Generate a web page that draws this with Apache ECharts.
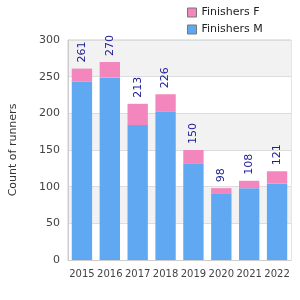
<!DOCTYPE html>
<html><head><meta charset="utf-8">
<script src="https://cdn.jsdelivr.net/npm/echarts@6/dist/echarts.min.js"></script>
<style>html,body{margin:0;padding:0;background:#fff}#c{width:300px;height:300px}</style>
</head><body><div id="c"></div>
<script>
const years = ['2015','2016','2017','2018','2019','2020','2021','2022'];
const finishersM = [243, 249, 184, 202, 132, 91, 98, 104];
const finishersF = [18, 21, 29, 24, 18, 7, 10, 17];
const totals = [261, 270, 213, 226, 150, 98, 108, 121];
const yTicks = [0, 50, 100, 150, 200, 250, 300];

const chart = echarts.init(document.getElementById('c'), null, {renderer:'canvas'});
const font = 'DejaVu Sans, sans-serif';
chart.setOption({
  animation: false,
  textStyle: {fontFamily: font},
  legend: {
    orient: 'vertical', left: 182, top: 2, itemWidth: 9, itemHeight: 9, itemGap: 6,
    icon: 'rect',
    textStyle: {fontSize: 11, color: '#222', fontFamily: font},
    itemStyle: {borderColor: '#777', borderWidth: 1},
    data: ['Finishers F', 'Finishers M']
  },
  grid: {left: 60, right: 9, top: 40, bottom: 40, show: true, borderColor: '#ccc', borderWidth: 1, backgroundColor: 'transparent'},
  xAxis: {
    type: 'category', data: years,
    axisLine: {lineStyle: {color: '#ccc'}}, axisTick: {show: false},
    axisLabel: {color: '#444', fontSize: 10, margin: 9, interval: 0, fontFamily: font}
  },
  yAxis: {
    type: 'value', min: 0, max: 300, interval: 50,
    name: 'Count of runners', nameLocation: 'middle', nameGap: 49,
    nameTextStyle: {color: '#333', fontSize: 11, fontFamily: font},
    axisLabel: {color: '#444', fontSize: 11, margin: 8, fontFamily: font,
      formatter: v => yTicks.includes(v) ? String(v) : ''},
    axisLine: {show: true, lineStyle: {color: '#ccc'}},
    splitLine: {lineStyle: {color: '#ddd'}},
    splitArea: {show: true, areaStyle: {color: ['#ffffff', '#f2f2f2']}}
  },
  series: [
    {name: 'Finishers M', type: 'bar', stack: 'a', data: finishersM, barWidth: '73%',
     itemStyle: {color: '#60a8f2'}},
    {name: 'Finishers F', type: 'bar', stack: 'a', data: finishersF, barWidth: '73%',
     itemStyle: {color: '#f386bd'},
     label: {show: true, position: 'top', rotate: 90, align: 'left', verticalAlign: 'middle',
       distance: 6, color: '#1c1c94', fontSize: 11, fontFamily: font,
       formatter: p => String(totals[p.dataIndex])}}
  ]
});
</script></body></html>
